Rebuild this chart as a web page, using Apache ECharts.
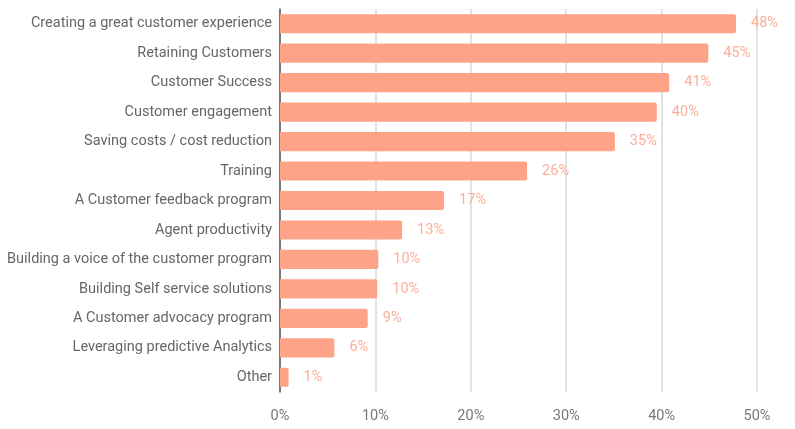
<!DOCTYPE html>
<html><head><meta charset="utf-8">
<script src="https://cdn.jsdelivr.net/npm/echarts@6/dist/echarts.min.js"></script>
<style>html,body{margin:0;padding:0;background:#fff}#c{width:795px;height:429px}</style>
</head><body><div id="c"></div>
<script>
const categories = [
  "Creating a great customer experience",
  "Retaining Customers",
  "Customer Success",
  "Customer engagement",
  "Saving costs / cost reduction",
  "Training",
  "A Customer feedback program",
  "Agent productivity",
  "Building a voice of the customer program",
  "Building Self service solutions",
  "A Customer advocacy program",
  "Leveraging predictive Analytics",
  "Other"
];
const values = [47.8, 44.9, 40.8, 39.5, 35.1, 25.9, 17.2, 12.8, 10.3, 10.2, 9.2, 5.7, 0.9];
const labels = ["48%","45%","41%","40%","35%","26%","17%","13%","10%","10%","9%","6%","1%"];
const xTicks = [0, 10, 20, 30, 40, 50];

const chart = echarts.init(document.getElementById('c'));
chart.setOption({
  animation: false,
  grid: { left: 280, right: 38, top: 9, height: 383, containLabel: false },
  xAxis: {
    type: 'value', min: xTicks[0], max: xTicks[xTicks.length-1], interval: xTicks[1]-xTicks[0],
    axisLine: { show: false }, axisTick: { show: false },
    splitLine: { lineStyle: { color: '#d9d9d9', width: 1.5 } },
    axisLabel: { formatter: v => v + '%', color: '#777', fontFamily: 'Roboto', fontSize: 14.5, margin: 17 }
  },
  yAxis: {
    type: 'category', data: categories, inverse: true,
    axisLine: { show: true, lineStyle: { color: '#555', width: 1.5 } },
    axisTick: { show: false },
    axisLabel: { color: '#666', fontFamily: 'Roboto', fontSize: 14.5, margin: 8 }
  },
  series: [{
    type: 'bar', data: values, barCategoryGap: '35%',
    itemStyle: { color: '#ffa388', borderRadius: [0, 2, 2, 0] },
    label: {
      show: true, position: 'right', distance: 15,
      formatter: p => labels[p.dataIndex],
      color: '#fdae99', fontFamily: 'Roboto', fontSize: 14.5
    }
  }]
});
</script></body></html>
